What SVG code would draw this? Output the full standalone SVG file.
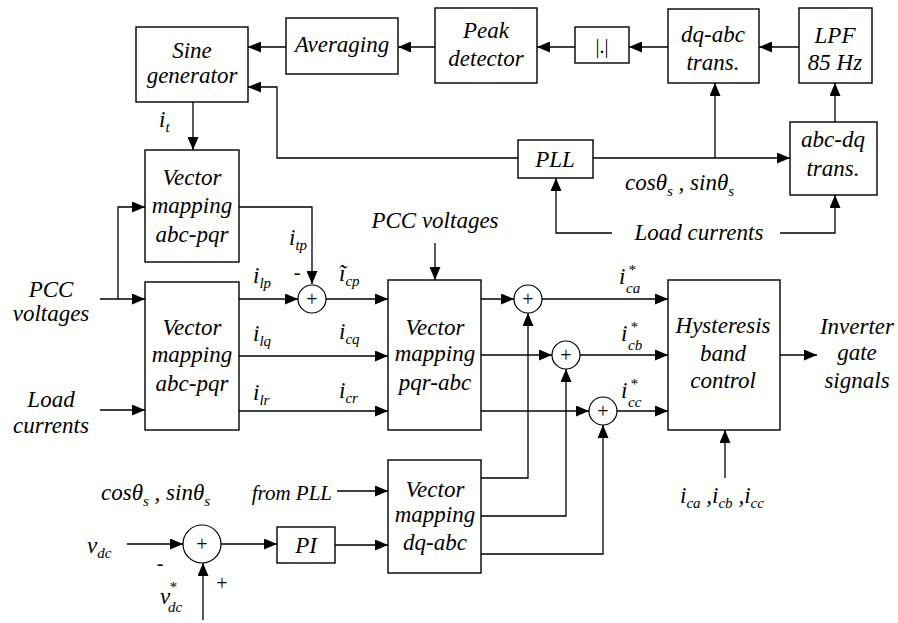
<svg xmlns="http://www.w3.org/2000/svg" width="898" height="623" viewBox="0 0 898 623">
<style>
.b{fill:#fff;stroke:#000;stroke-width:1.4}
.c{fill:#fff;stroke:#000;stroke-width:1.2}
.w{fill:none;stroke:#000;stroke-width:1.3}
text{font-family:"Liberation Serif",Tinos,"Times New Roman",Times,"DejaVu Serif","Noto Serif",serif;font-style:italic;font-size:23px;fill:#000}
.m{text-anchor:middle}
.s{font-size:15px}
.p{font-style:normal;font-size:20px;text-anchor:middle}
</style>
<defs>
<marker id="a" markerUnits="userSpaceOnUse" markerWidth="14" markerHeight="11" refX="13" refY="5.5" orient="auto">
<path d="M0,0 L13,5.5 L0,11 z" fill="#000"/>
</marker>
</defs>
<rect width="898" height="623" fill="#fff"/>
<g id="connectors" class="w" marker-end="url(#a)">
<path d="M799,47 H759"/>
<path d="M668,47 H629"/>
<path d="M575,47 H537"/>
<path d="M435,47 H398"/>
<path d="M286,47 H248"/>
<path d="M518,158 H277 V87 H248"/>
<path d="M593,158 H790"/>
<path d="M715,158 V83"/>
<path d="M835,122 V83"/>
<path d="M612,233 H556 V178"/>
<path d="M780,233 H835 V195"/>
<path d="M193,102 V150"/>
<path d="M100,299 H145"/>
<path d="M118,299 V207 H145"/>
<path d="M100,410 H145"/>
<path d="M239,207 H312 V284"/>
<path d="M239,299 H298"/>
<path d="M326,299 H388"/>
<path d="M239,356 H388"/>
<path d="M239,411 H388"/>
<path d="M435,243 V280"/>
<path d="M481,299 H514"/>
<path d="M481,355 H552"/>
<path d="M481,411 H589"/>
<path d="M542,299 H668"/>
<path d="M580,355 H668"/>
<path d="M617,411 H668"/>
<path d="M780,355 H817"/>
<path d="M725,478 V430"/>
<path d="M481,478 H528 V313"/>
<path d="M481,516 H566 V369"/>
<path d="M481,554 H603 V425"/>
<path d="M337,491 H388"/>
<path d="M335,545 H388"/>
<path d="M221,544 H277"/>
<path d="M127,544 H183"/>
<path d="M203,620 V563"/>
</g>
<g id="sine"><rect class="b" x="136" y="27" width="112" height="75"/><text class="m" x="192" y="58">Sine</text><text class="m" x="192" y="83">generator</text></g>
<g id="averaging"><rect class="b" x="286" y="18" width="112" height="56"/><text class="m" x="342" y="52">Averaging</text></g>
<g id="peak"><rect class="b" x="435" y="8" width="102" height="75"/><text class="m" x="486" y="38">Peak</text><text class="m" x="486" y="66">detector</text></g>
<g id="abs"><rect class="b" x="575" y="27" width="54" height="36"/><text class="p" x="602" y="53">|.|</text></g>
<g id="dqabc"><rect class="b" x="668" y="9" width="91" height="74"/><text class="m" x="713" y="42">dq-abc</text><text class="m" x="713" y="70">trans.</text></g>
<g id="lpf"><rect class="b" x="799" y="8" width="73" height="75"/><text class="m" x="835" y="43">LPF</text><text class="m" x="835" y="70">85 Hz</text></g>
<g id="abcdq"><rect class="b" x="790" y="122" width="87" height="73"/><text class="m" x="833" y="147">abc-dq</text><text class="m" x="833" y="176">trans.</text></g>
<g id="pll"><rect class="b" x="518" y="140" width="75" height="38"/><text class="m" x="555" y="167">PLL</text></g>
<g id="vm1"><rect class="b" x="145" y="150" width="94" height="112"/><text class="m" x="192" y="185">Vector</text><text class="m" x="192" y="213">mapping</text><text class="m" x="192" y="242">abc-pqr</text></g>
<g id="vm2"><rect class="b" x="145" y="282" width="94" height="148"/><text class="m" x="192" y="335">Vector</text><text class="m" x="192" y="362">mapping</text><text class="m" x="192" y="391">abc-pqr</text></g>
<g id="pqrabc"><rect class="b" x="388" y="280" width="93" height="150"/><text class="m" x="435" y="335">Vector</text><text class="m" x="435" y="361">mapping</text><text class="m" x="435" y="390">pqr-abc</text></g>
<g id="hyst"><rect class="b" x="668" y="280" width="112" height="150"/><text class="m" x="723" y="333">Hysteresis</text><text class="m" x="723" y="361">band</text><text class="m" x="723" y="388">control</text></g>
<g id="vm3"><rect class="b" x="388" y="460" width="93" height="113"/><text class="m" x="435" y="497">Vector</text><text class="m" x="435" y="522">mapping</text><text class="m" x="435" y="550">dq-abc</text></g>
<g id="pi"><rect class="b" x="277" y="527" width="58" height="36"/><text class="m" x="306" y="553">PI</text></g>
<g id="sum1"><circle class="c" cx="312" cy="299" r="14"/><text class="p" x="312" y="306">+</text></g>
<g id="sum2"><circle class="c" cx="528" cy="299" r="14"/><text class="p" x="528" y="306">+</text></g>
<g id="sum3"><circle class="c" cx="566" cy="355" r="14"/><text class="p" x="566" y="362">+</text></g>
<g id="sum4"><circle class="c" cx="603" cy="411" r="14"/><text class="p" x="603" y="418">+</text></g>
<g id="sum0"><circle class="c" cx="202" cy="544" r="19"/><text class="p" x="202" y="551">+</text></g>
<g id="labels">
<text x="625" y="190">cosθ<tspan class="s" dy="6">s</tspan><tspan dy="-6"> , sinθ</tspan><tspan class="s" dy="6">s</tspan></text>
<text class="m" x="699" y="240">Load currents</text>
<text x="159" y="127">i<tspan class="s" dy="5">t</tspan></text>
<text class="m" x="51" y="297">PCC</text><text class="m" x="51" y="321">voltages</text>
<text class="m" x="51" y="407">Load</text><text class="m" x="51" y="433">currents</text>
<text x="289" y="245">i<tspan class="s" dy="5">tp</tspan></text>
<text class="p" x="297" y="279">-</text>
<text x="253" y="283">i<tspan class="s" dy="5">lp</tspan></text>
<text x="253" y="341">i<tspan class="s" dy="5">lq</tspan></text>
<text x="253" y="400">i<tspan class="s" dy="5">lr</tspan></text>
<text x="339" y="281">ĩ<tspan class="s" dy="5">cp</tspan></text>
<text x="339" y="339">i<tspan class="s" dy="5">cq</tspan></text>
<text x="339" y="398">i<tspan class="s" dy="5">cr</tspan></text>
<text class="m" x="435" y="228">PCC voltages</text>
<text x="619" y="284">i</text><text class="s" x="628" y="275">*</text><text class="s" x="626" y="293">ca</text>
<text x="621" y="341">i</text><text class="s" x="630" y="332">*</text><text class="s" x="628" y="350">cb</text>
<text x="621" y="398">i</text><text class="s" x="630" y="389">*</text><text class="s" x="628" y="407">cc</text>
<text class="m" x="857" y="334">Inverter</text><text class="m" x="857" y="360">gate</text><text class="m" x="857" y="388">signals</text>
<text x="680" y="503">i<tspan class="s" dy="5">ca</tspan><tspan dy="-5"> ,i</tspan><tspan class="s" dy="5">cb</tspan><tspan dy="-5"> ,i</tspan><tspan class="s" dy="5">cc</tspan></text>
<text x="101" y="500">cosθ<tspan class="s" dy="6">s</tspan><tspan dy="-6"> , sinθ</tspan><tspan class="s" dy="6">s</tspan></text>
<text x="332" y="500" style="text-anchor:end;font-size:21px">from PLL</text>
<text x="87" y="553">v<tspan class="s" dy="5">dc</tspan></text>
<text class="p" x="160" y="570">-</text>
<text x="160" y="604">v</text><text class="s" x="169" y="592">*</text><text class="s" x="168" y="612">dc</text>
<text class="p" x="222" y="590">+</text>
</g>
</svg>
